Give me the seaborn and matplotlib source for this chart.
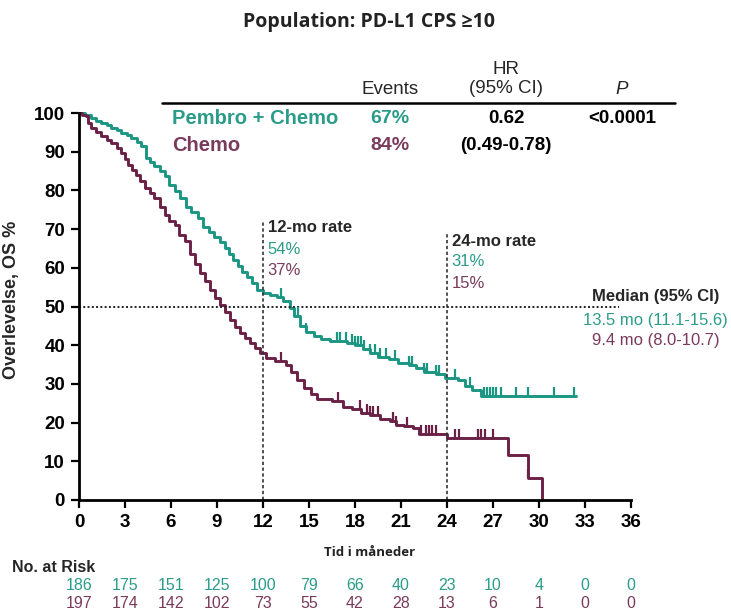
import numpy as np
import pandas as pd
import matplotlib
matplotlib.use("Agg")
import matplotlib.pyplot as plt
import seaborn as sns

# ---------------- data ----------------
arms = ["Pembro + Chemo", "Chemo"]

pembro_t = [0, 0.4, 0.8, 1.1, 1.45, 1.8, 2.1, 2.45, 2.76, 3.1, 3.4, 3.75, 4.07, 4.4, 4.65,
            4.9, 5.25, 5.6, 5.9, 6.24, 6.6, 7.0, 7.3, 7.76, 8.1, 8.45, 8.8, 9.2, 9.5, 9.8,
            10.07, 10.35, 10.65, 10.94, 11.25, 11.6, 12.0, 12.45, 12.9, 13.3, 13.76, 14.0,
            14.4, 14.8, 15.3, 15.8, 16.4, 17.5, 18.0, 18.5, 19.0, 19.5,
            20.2, 20.8, 21.5, 22.0, 22.5, 23.3, 23.9, 24.7, 25.2, 25.6, 26.2, 32.4]
pembro_s = [100, 99.5, 98.7, 98, 97.4, 96.8, 96.1, 95.5, 94.8, 94.2, 93.5, 92.5, 91.5, 88.4, 87.3,
            86.2, 85, 83.6, 81.5, 79.8, 78, 75.8, 74.5, 72.9, 70.6, 69.3, 68, 66.7, 65, 63.5,
            62, 60.5, 59, 57.7, 56, 54.3, 53.4, 53, 52.5, 51.3, 49.5, 47.5,
            45, 43.5, 42.5, 41.5, 41, 40.5, 40, 39, 38, 37,
            36.5, 35.5, 35, 34, 33, 32.5, 31.5, 31, 29.5, 28.5, 27, 27]

chemo_t = [0, 0.2, 0.43, 0.6, 0.8, 1.1, 1.45, 1.8, 2.1, 2.45, 2.76, 3.0, 3.2, 3.45, 3.74,
           4.0, 4.28, 4.6, 4.9, 5.25, 5.6, 5.9, 6.24, 6.5, 6.9, 7.24, 7.55, 7.9, 8.2, 8.55,
           8.9, 9.2, 9.5, 9.85, 10.15, 10.5, 10.8, 11.15, 11.5, 11.8, 12.2, 12.8, 13.5,
           13.8, 14.2, 14.7, 15.1, 15.5, 16.5, 17.2, 17.8,
           18.4, 19.0, 19.6, 20.3, 20.7, 21.2, 21.8, 22.2, 24.0, 28.0, 29.3, 30.2]
chemo_s = [100, 99.6, 99.1, 97.5, 96.1, 95, 94, 93.1, 92.2, 91, 89.7, 88.2, 86.6, 85.3, 84,
           82.3, 80.6, 79.3, 78, 75.8, 73.7, 72, 71, 68.5, 66.8, 63.5, 61, 58.6, 56.5, 54.3,
           52.3, 50.4, 48.5, 46.5, 44.8, 43.1, 41.8, 40.5, 39.2, 37.9, 36.6, 36, 34.9,
           33, 31, 29, 27.5, 26, 25.5, 24, 23.5,
           22.5, 22, 21, 20.5, 19.5, 19, 18.5, 17, 16, 11.5, 5.8, 0]

pembro_cens = [13.2, 14.3, 14.8, 16.8, 17.0, 17.4, 17.8, 18.0, 18.2, 18.4, 18.6, 19.0,
               19.3, 19.6, 20.0, 20.6, 21.5, 21.7, 22.5, 22.7, 23.3, 23.5, 24.5, 25.5,
               26.4, 26.6, 26.8, 27.0, 27.2, 27.5, 28.5, 29.3, 31.0, 32.3]
chemo_cens = [13.2, 16.9, 18.3, 18.8, 19.0, 19.2, 19.5, 20.5, 20.7, 21.4, 22.3, 22.6,
              22.8, 23.0, 23.3, 24.5, 24.8, 26.0, 26.2, 26.5, 27.0, 29.3]

risk_times = [0, 3, 6, 9, 12, 15, 18, 21, 24, 27, 30, 33, 36]
pembro_risk = [186, 175, 151, 125, 100, 79, 66, 40, 23, 10, 4, 0, 0]
chemo_risk = [197, 174, 142, 102, 73, 55, 42, 28, 13, 6, 1, 0, 0]

events = ["67%", "84%"]
hr_text = ["0.62", "(0.49-0.78)"]
p_text = "<0.0001"
rate12 = ["54%", "37%"]
rate24 = ["31%", "15%"]
medians = ["13.5 mo (11.1-15.6)", "9.4 mo (8.0-10.7)"]

TEAL = "#1a9682"
MAROON = "#6b2146"
TEAL_T = "#2a9c89"
MAROON_T = "#7a3a5c"
colors = [TEAL, MAROON]
tcolors = [TEAL_T, MAROON_T]

# ---------------- figure ----------------
sns.set_theme(style="white")
plt.rcParams["font.family"] = ["Liberation Sans", "DejaVu Sans"]

fig = plt.figure(figsize=(7.31, 6.15), dpi=100)
ax = fig.add_axes([79 / 731, 1 - 500 / 615, 552 / 731, 387 / 615])

curves = pd.concat([
    pd.DataFrame({"arm": arms[0], "time": pembro_t, "surv": pembro_s}),
    pd.DataFrame({"arm": arms[1], "time": chemo_t, "surv": chemo_s}),
])
sns.lineplot(data=curves, x="time", y="surv", hue="arm", palette=dict(zip(arms, colors)),
             estimator=None, sort=False, drawstyle="steps-post", lw=2.1,
             legend=False, ax=ax, clip_on=False)


def step_value(tt, ss, x):
    i = np.searchsorted(np.asarray(tt), x, side="right") - 1
    return np.asarray(ss)[i]


cens = pd.concat([
    pd.DataFrame({"arm": arms[0], "time": pembro_cens,
                  "surv": [step_value(pembro_t, pembro_s, c) for c in pembro_cens]}),
    pd.DataFrame({"arm": arms[1], "time": chemo_cens,
                  "surv": [step_value(chemo_t, chemo_s, c) for c in chemo_cens]}),
])
tick_marker = matplotlib.markers.MarkerStyle([(0, 0), (0, 1)])
for arm, col in zip(arms, colors):
    sub = cens[cens["arm"] == arm]
    sns.scatterplot(data=sub, x="time", y="surv", marker=tick_marker, s=150,
                    color=col, edgecolor=col, linewidth=1.6, legend=False,
                    ax=ax, clip_on=False, zorder=3)

# reference lines
ax.axhline(50, xmin=0, xmax=35.2 / 36, color="#222222", lw=1.4, ls=(0, (1, 1.2)))
ax.plot([12, 12], [0, 72], color="#333333", lw=1.2, ls=(0, (2, 1.5)))
ax.plot([24, 24], [0, 69.3], color="#333333", lw=1.2, ls=(0, (2, 1.5)))

# axes styling
ax.set_xlim(0, 36)
ax.set_ylim(0, 100)
ax.set_xticks(risk_times)
ax.set_yticks(range(0, 101, 10))
ax.tick_params(axis="both", which="major", direction="out", length=6, width=1.6,
               labelsize=13.5, colors="black", pad=4, bottom=True, left=True)
for lab in ax.get_xticklabels() + ax.get_yticklabels():
    lab.set_fontweight("bold")
for side in ["top", "right"]:
    ax.spines[side].set_visible(False)
for side in ["left", "bottom"]:
    ax.spines[side].set_color("black")
    ax.spines[side].set_linewidth(2)
ax.set_xlabel("")
ax.set_ylabel("Overlevelse, OS %", fontsize=13, fontweight="bold")
ax.yaxis.set_label_coords(-0.107, 0.517)

# title
fig.text(0.505, 1 - 22 / 615, "Population: PD-L1 CPS \u226510", ha="center", va="center",
         fontsize=14, fontweight="bold", family=["Open Sans", "DejaVu Sans"], color="#222222")

# table header
hfs = 13.5
ax.text(20.3, 106, "Events", ha="center", va="center", fontsize=hfs, clip_on=False)
ax.text(27.85, 111.2, "HR", ha="center", va="center", fontsize=hfs, clip_on=False)
ax.text(27.85, 106.3, "(95% CI)", ha="center", va="center", fontsize=hfs, clip_on=False)
ax.text(35.4, 106, "P", ha="center", va="center", fontsize=hfs, style="italic", clip_on=False)
ax.plot([5.4, 38.9], [102.6, 102.6], color="black", lw=1.8, clip_on=False)

row_y = [98.7, 91.7]
for i in range(2):
    ax.text(6.07, row_y[i], arms[i], ha="left", va="center", fontsize=14.5,
            fontweight="bold", color=tcolors[i], clip_on=False)
    ax.text(20.3, row_y[i], events[i], ha="center", va="center", fontsize=14,
            fontweight="bold", color=tcolors[i], clip_on=False)
    ax.text(27.85, row_y[i], hr_text[i], ha="center", va="center", fontsize=13.5,
            fontweight="bold", color="black", clip_on=False)
ax.text(35.4, row_y[0], p_text, ha="center", va="center", fontsize=13.5,
        fontweight="bold", color="black", clip_on=False)

# rate annotations
afs = 12
ax.text(12.3, 70.3, "12-mo rate", ha="left", va="center", fontsize=afs, fontweight="bold")
ax.text(12.3, 64.6, rate12[0], ha="left", va="center", fontsize=afs, color=tcolors[0])
ax.text(12.3, 59.4, rate12[1], ha="left", va="center", fontsize=afs, color=tcolors[1])
ax.text(24.3, 66.9, "24-mo rate", ha="left", va="center", fontsize=afs, fontweight="bold")
ax.text(24.3, 61.5, rate24[0], ha="left", va="center", fontsize=afs, color=tcolors[0])
ax.text(24.3, 56.0, rate24[1], ha="left", va="center", fontsize=afs, color=tcolors[1])

ax.text(37.6, 52.5, "Median (95% CI)", ha="center", va="center", fontsize=afs,
        fontweight="bold", clip_on=False)
ax.text(37.6, 46.5, medians[0], ha="center", va="center", fontsize=afs,
        color=tcolors[0], clip_on=False)
ax.text(37.6, 41.3, medians[1], ha="center", va="center", fontsize=afs,
        color=tcolors[1], clip_on=False)

# x label and risk table
fig.text(370 / 731, 1 - 553 / 615, "Tid i m\u00e5neder", ha="center", va="center",
         fontsize=9.5, fontweight="bold", family=["Open Sans", "DejaVu Sans"], color="#222222")
fig.text(12 / 731, 1 - 567 / 615, "No. at Risk", ha="left", va="center",
         fontsize=11.5, fontweight="bold")
trans = matplotlib.transforms.blended_transform_factory(ax.transData, fig.transFigure)
for t, a, b in zip(risk_times, pembro_risk, chemo_risk):
    ax.text(t, 1 - 586 / 615, str(a), ha="center", va="center", fontsize=11.5,
            color=tcolors[0], transform=trans, clip_on=False)
    ax.text(t, 1 - 604 / 615, str(b), ha="center", va="center", fontsize=11.5,
            color=tcolors[1], transform=trans, clip_on=False)

fig.savefig("out.png", dpi=100)
